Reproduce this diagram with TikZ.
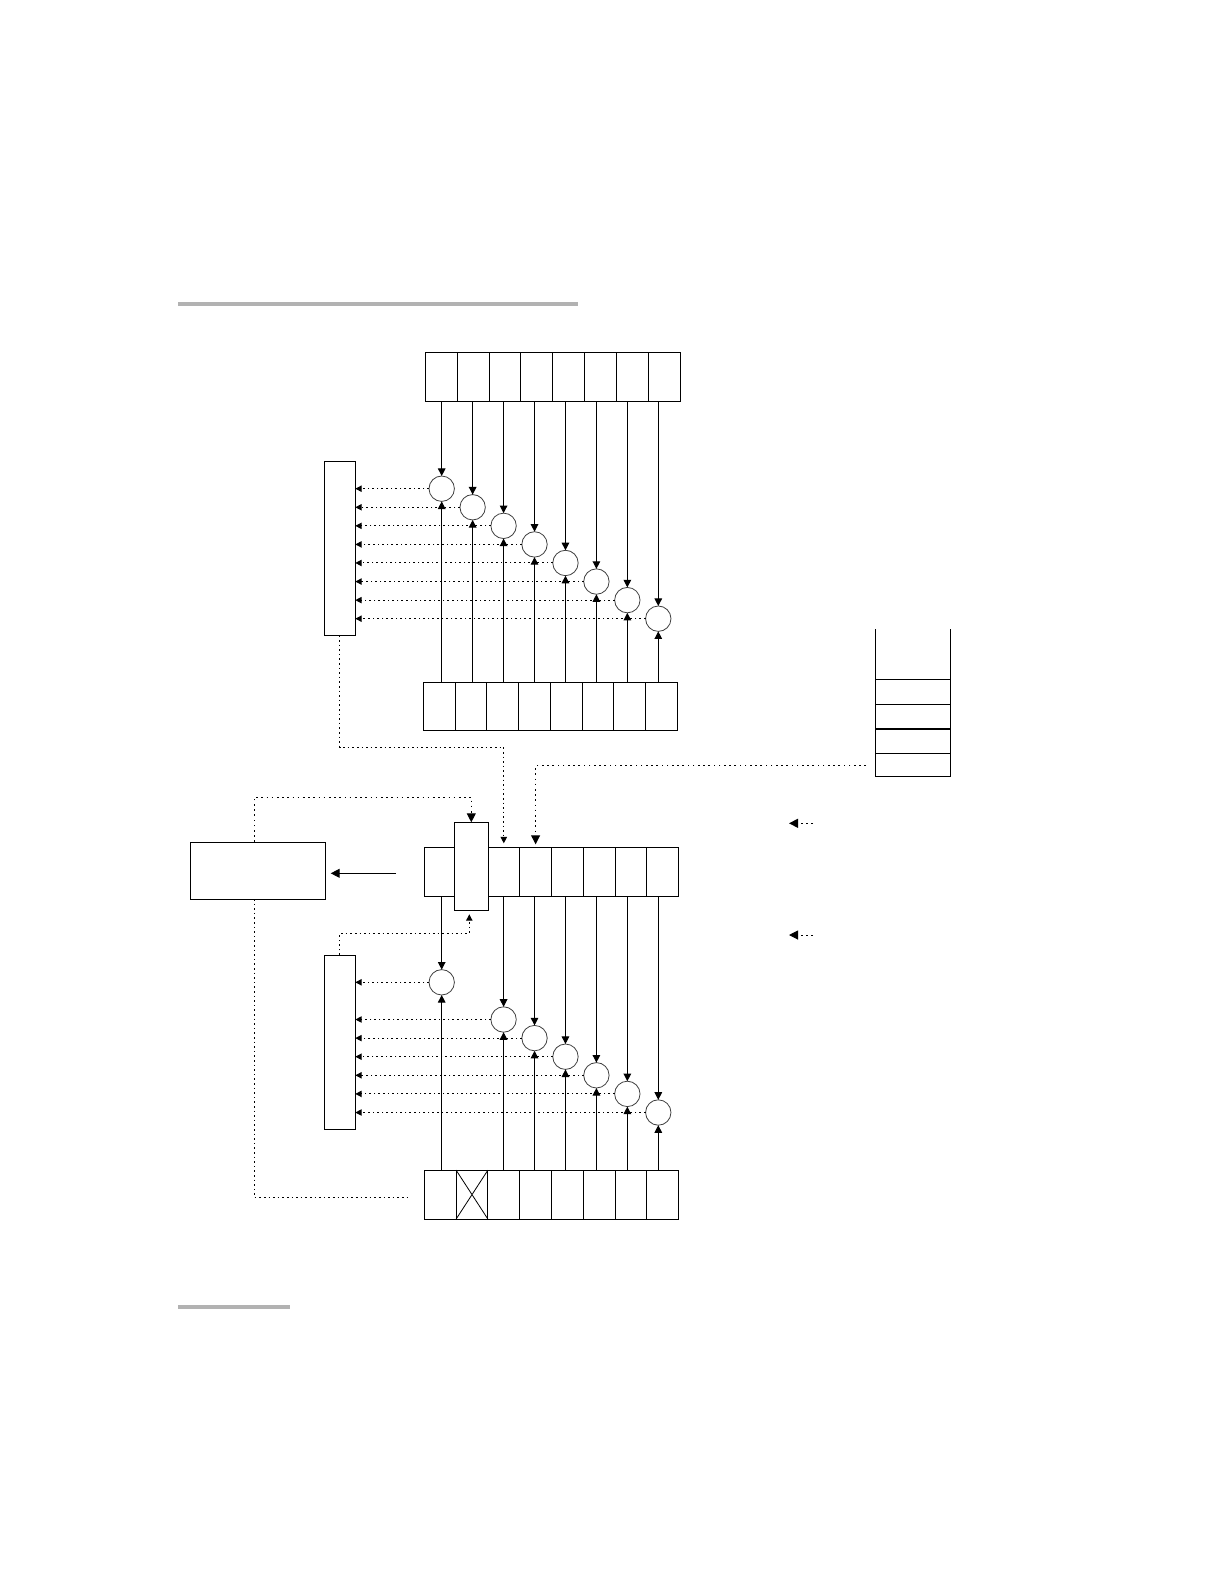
\documentclass[tikz,border=0pt]{standalone}
\usepackage{tikz}
\usetikzlibrary{arrows.meta,positioning,calc}
\definecolor{rulegray}{RGB}{178,178,178}

\begin{document}
\begin{tikzpicture}[x=0.5pt, y=-0.5pt,
    cell/.style={rectangle, draw, line width=0.5pt, minimum width=15.9pt, minimum height=24.5pt, inner sep=0pt, outer sep=0pt},
    ring/.style={circle, draw=black!75, line width=0.4pt, minimum size=12.7pt, inner sep=0pt, outer sep=0pt},
    tallbox/.style={rectangle, draw, line width=0.5pt, inner sep=0pt, outer sep=0pt},
    arr/.style={-{Triangle[length=3.8pt, width=3.8pt]}, line width=0.5pt},
    bigarr/.style={-{Triangle[length=4.5pt, width=4.5pt]}, line width=0.5pt},
    darr/.style={-{Triangle[length=3.2pt, width=3.2pt]}, line width=0.5pt, dash pattern=on 0.8pt off 1.5pt},
    legarr/.style={-{Triangle[length=4.5pt, width=4.5pt]}, line width=0.5pt, dash pattern=on 0.8pt off 1.8pt},
    dline/.style={line width=0.5pt, dash pattern=on 0.8pt off 1.5pt}
]
    \useasboundingbox (0,0) rectangle (1224,1584);

    % Page rules
    \fill[rulegray] (178,302) rectangle (578,306);
    \fill[rulegray] (178,1305) rectangle (290,1309);

    % Upper stage: source and result arrays
    \foreach \i in {1,...,8} {
        \node[cell] (t\i) at ({425.3+31.875*(\i-0.5)},376.8) {};
        \node[cell, minimum height=24.15pt] (b\i) at ({423.3+31.75*(\i-0.5)},706.2) {};
    }
    \node[tallbox, minimum width=15.5pt, minimum height=87pt] (L1) at (339.8,548.3) {};

    % Upper comparators
    \foreach \i in {1,...,8} {
        \node[ring] (c\i) at ({441.7+30.94*(\i-1)},{488.7+18.57*(\i-1)}) {};
        \draw[arr] (c\i |- t\i.south) -- (c\i.north);
        \draw[arr] (c\i |- b\i.north) -- (c\i.south);
        \draw[darr] (c\i.west) -- (c\i.west -| L1.east);
    }

    % Right stack
    \draw[line width=0.5pt] (875.3,629.3) -- (875.3,776.7) -- (950,776.7) -- (950,629.3);
    \foreach \y in {679.3,704.3,753.3}
        \draw[line width=0.5pt] (875.3,\y) -- (950,\y);
    \draw[line width=1pt] (875.3,728.7) -- (950,728.7);
    \coordinate (slot) at (866,765.7);

    % Lower stage: arrays
    \foreach \i in {1,...,8} {
        \node[cell] (m\i) at ({424.3+31.8*(\i-0.5)},871.8) {};
        \node[cell] (n\i) at ({424.3+31.8*(\i-0.5)},1194.6) {};
    }
    \draw[line width=0.4pt] (n2.north west) -- (n2.south east) (n2.south west) -- (n2.north east);
    \node[tallbox, fill=white, minimum width=17pt, minimum height=44pt] (T) at (471.3,866.3) {};
    \node[tallbox, minimum width=67.7pt, minimum height=28.5pt] (B) at (258,870.5) {};
    \node[tallbox, minimum width=15.5pt, minimum height=87.2pt] (L2) at (339.8,1042.2) {};

    % Lower comparators
    \foreach \i in {1,3,4,5,6,7,8} {
        \node[ring] (d\i) at ({441.7+30.94*(\i-1)},{982.3+18.6*(\i-1)}) {};
        \draw[arr] (d\i |- m\i.south) -- (d\i.north);
        \draw[arr] (d\i |- n\i.north) -- (d\i.south);
        \draw[darr] (d\i.west) -- (d\i.west -| L2.east);
    }

    % Dotted links
    \coordinate (k1) at (503.8,747);
    \coordinate (k2) at (471.3,797.3);
    \coordinate (k3) at (469.3,933.3);
    \coordinate (k4) at (406.7,1197.3);
    \draw[darr] (L1.south) |- (k1) -- ([yshift=2pt]m3.north);
    \draw[legarr] (slot) -| ([yshift=1.5pt]m4.north);
    \draw[legarr] ([xshift=-2pt]B.north) |- (k2) -- (T.north);
    \draw[darr] (L2.north) |- (k3) -- ([xshift=-1pt,yshift=-2pt]T.south);
    \draw[dline] ([xshift=-2pt]B.south) |- (k4);

    % Feed into box
    \coordinate (feed) at (396,873.3);
    \draw[bigarr, shorten >=2.5pt] (feed) -- (B.east |- feed);

    % Legend arrows
    \coordinate (lg1) at (813,823.3);
    \coordinate (lg1e) at (789,823.3);
    \coordinate (lg2) at (813,935);
    \coordinate (lg2e) at (789,935);
    \draw[legarr] (lg1) -- (lg1e);
    \draw[legarr] (lg2) -- (lg2e);
\end{tikzpicture}
\end{document}
